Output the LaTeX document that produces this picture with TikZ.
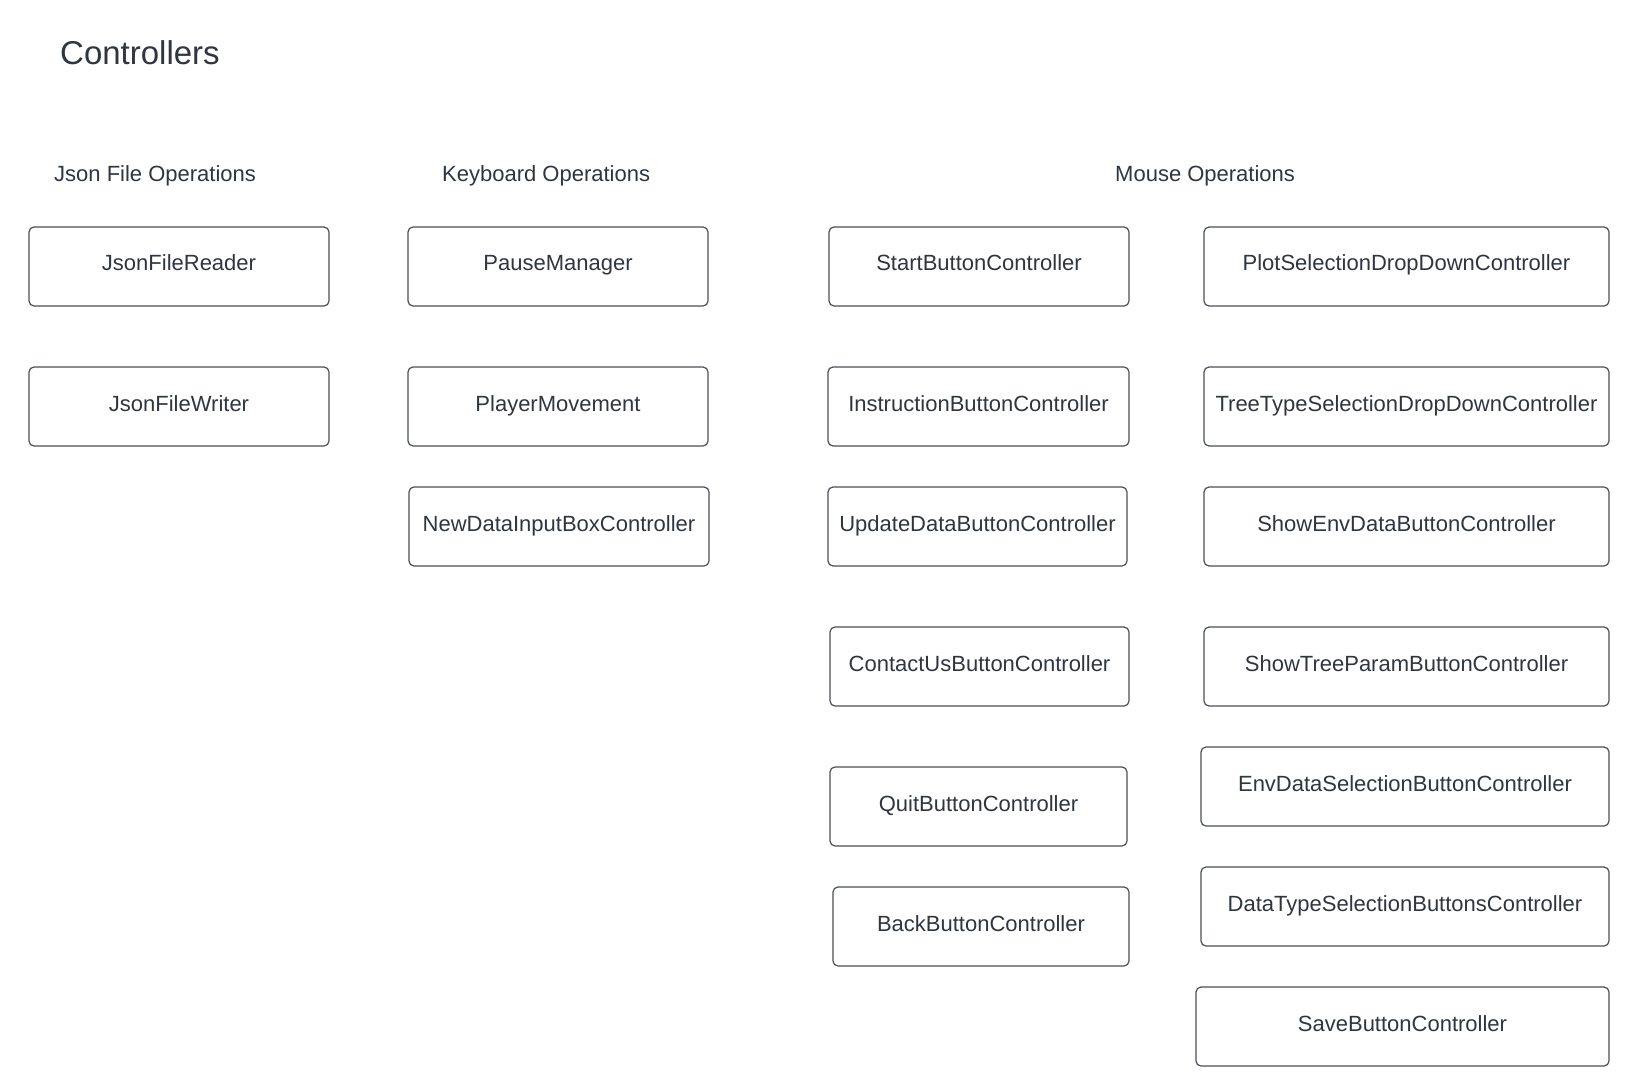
\documentclass[tikz,border=0pt]{standalone}
\usepackage{fontspec}
\setmainfont{Liberation Sans}
\definecolor{txt}{HTML}{2F3642}
\definecolor{edge}{HTML}{4A505A}
\begin{document}
\begin{tikzpicture}[x=1pt,y=-1pt,
  box/.style={draw=edge,line width=1.2pt,rounded corners=5pt,rectangle,
    minimum height=79pt,inner sep=0pt,text=txt,
    font=\fontsize{22}{26}\selectfont,text height=16pt,text depth=7pt},
  hdr/.style={anchor=base west,inner sep=0pt,text=txt,font=\fontsize{22}{26}\selectfont},
  ttl/.style={anchor=base west,inner sep=0pt,text=txt,font=\fontsize{33}{38}\selectfont}]
\path[use as bounding box,fill=white] (0,0) rectangle (1639,1086);
\node[ttl] (title) at (60,65) {Controllers};
\node[hdr] (hjson) at (54,182) {Json File Operations};
\node[hdr] (hkey) at (442,182) {Keyboard Operations};
\node[hdr] (hmouse) at (1115,182) {Mouse Operations};
% Json
\node[box,minimum width=300pt] (jr) at (179,266.5) {JsonFileReader};
\node[box,minimum width=300pt] (jw) at (179,406.5) {JsonFileWriter};
% Keyboard
\node[box,minimum width=300pt] (pm) at (558,266.5) {PauseManager};
\node[box,minimum width=300pt] (pl) at (558,406.5) {PlayerMovement};
\node[box,minimum width=300pt] (nd) at (559,526.5) {NewDataInputBoxController};
% Mouse col 1
\node[box,minimum width=300pt] (st) at (979,266.5) {StartButtonController};
\node[box,minimum width=301pt] (in) at (978.5,406.5) {InstructionButtonController};
\node[box,minimum width=299pt] (up) at (977.5,526.5) {UpdateDataButtonController};
\node[box,minimum width=299pt] (co) at (979.5,666.5) {ContactUsButtonController};
\node[box,minimum width=297pt] (qu) at (978.5,806.5) {QuitButtonController};
\node[box,minimum width=296pt] (ba) at (981,926.5) {BackButtonController};
% Mouse col 2
\node[box,minimum width=405pt] (ps) at (1406.5,266.5) {PlotSelectionDropDownController};
\node[box,minimum width=405pt] (tt) at (1406.5,406.5) {TreeTypeSelectionDropDownController};
\node[box,minimum width=405pt] (se) at (1406.5,526.5) {ShowEnvDataButtonController};
\node[box,minimum width=405pt] (sp) at (1406.5,666.5) {ShowTreeParamButtonController};
\node[box,minimum width=408pt] (ed) at (1405,786.5) {EnvDataSelectionButtonController};
\node[box,minimum width=408pt] (dt) at (1405,906.5) {DataTypeSelectionButtonsController};
\node[box,minimum width=413pt] (sv) at (1402.5,1026.5) {SaveButtonController};
\end{tikzpicture}
\end{document}
